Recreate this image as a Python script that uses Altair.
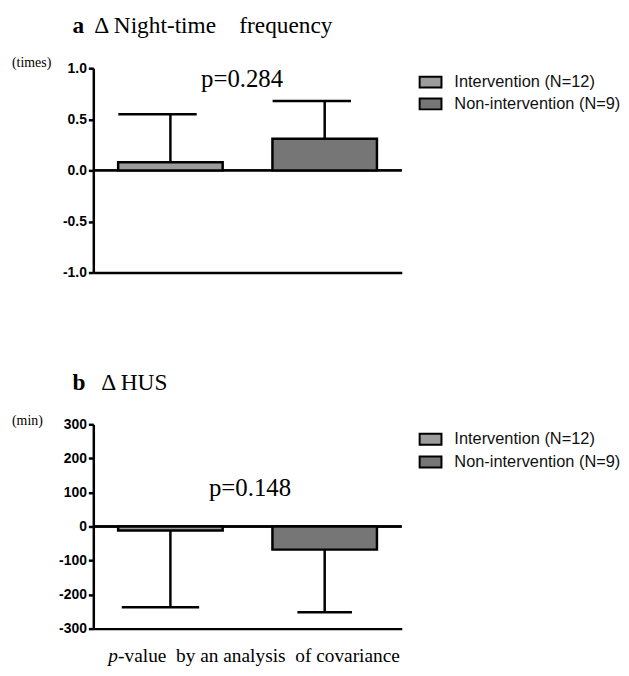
import altair as alt
import pandas as pd

# ---- data ----
groups = ["Intervention (N=12)", "Non-intervention (N=9)"]
night_mean = [0.08, 0.31]
night_err_end = [0.55, 0.68]
hus_mean = [-12, -68]
hus_err_end = [-237, -252]
night_ticks = [-1.0, -0.5, 0.0, 0.5, 1.0]
hus_ticks = [-300, -200, -100, 0, 100, 200, 300]
p_labels = ["p=0.284", "p=0.148"]
panel_letters = ["a", "b"]
NB = "\u00a0"
panel_titles = ["\u0394 Night-time" + NB * 4 + "frequency", "\u0394 HUS"]
units = ["(times)", "(min)"]
footer = ["p", "-value" + NB * 2 + "by an analysis" + NB * 2 + "of covariance"]

W, H = 311, 206
SERIF = "Liberation Serif"
SANS = "Liberation Sans"
FILLS = ["#9c9c9c", "#767676"]


def yenc(field, ticks, fmt):
    scale = alt.Scale(domain=[ticks[0], ticks[-1]], nice=False, zero=False)
    return alt.Y(
        field, type="quantitative", scale=scale,
        axis=alt.Axis(values=ticks, format=fmt, title=None, grid=False,
                      labelExpr="replace(datum.label, '\u2212', '-')",
                      domainColor="black", domainWidth=2.5,
                      tickColor="black", tickWidth=2.5, tickSize=5,
                      labelFont=SANS, labelFontWeight="bold", labelFontSize=14,
                      labelColor="black", labelPadding=2))


def panel(values, err, ticks, fmt, idx, pval_x, pval_y, legend_y, row_pad, caps, title_x):
    df = pd.DataFrame({"group": groups, "mean": values, "err": err})
    x = alt.X("group:N",
              scale=alt.Scale(domain=groups, paddingInner=0.3226, paddingOuter=0.161),
              axis=alt.Axis(labels=False, ticks=False, title=None, grid=False,
                            domainColor="black", domainWidth=2.5))
    color = alt.Color(
        "group:N",
        scale=alt.Scale(domain=groups, range=FILLS),
        legend=alt.Legend(title=None, orient="none", legendX=328, legendY=legend_y,
                          symbolType="M-1,-0.5H1V0.5H-1Z", symbolSize=484,
                          symbolStrokeColor="black", symbolStrokeWidth=2,
                          labelFont=SANS, labelFontSize=16.5, labelColor="#111111",
                          labelLimit=0, labelOffset=12, rowPadding=row_pad))
    base = alt.Chart(df)
    zero = base.transform_calculate(z="0").mark_rule(
        color="black", strokeWidth=2.5).encode(y=yenc("z", ticks, fmt))
    bars = base.mark_bar(stroke="black", strokeWidth=2.5).encode(
        x=x, y=yenc("mean", ticks, fmt), y2=alt.datum(0), color=color)
    stems = base.mark_rule(color="black", strokeWidth=2.5).encode(
        x=x, y=yenc("mean", ticks, fmt), y2="err:Q")
    cap_layers = []
    for g, (size, off) in zip(groups, caps):
        cap_layers.append(
            base.transform_filter(alt.datum.group == g).mark_tick(
                color="black", thickness=2.5, size=size, xOffset=off, opacity=1
            ).encode(x=x, y=yenc("err", ticks, fmt)))
    txt = pd.DataFrame({"t": [p_labels[idx]], "l": [panel_letters[idx]],
                        "m": [panel_titles[idx]], "u": [units[idx]]})
    tb = alt.Chart(txt)
    pval = tb.mark_text(font=SERIF, fontSize=25, align="center", baseline="middle",
                        color="black").encode(text="t:N", x=alt.value(pval_x), y=alt.value(pval_y))
    letter = tb.mark_text(font=SERIF, fontSize=23.5, fontWeight="bold", align="left",
                          baseline="alphabetic", color="black").encode(
        text="l:N", x=alt.value(-21), y=alt.value(-35))
    title = tb.mark_text(font=SERIF, fontSize=23.5, align="left", baseline="alphabetic",
                         color="black").encode(text="m:N", x=alt.value(title_x), y=alt.value(-35))
    unit = tb.mark_text(font=SERIF, fontSize=14, align="left", baseline="middle",
                        color="black").encode(text="u:N", x=alt.value(-82),
                                              y=alt.value(-5 if idx == 0 else -3))
    layers = [zero, bars, stems] + cap_layers + [pval, letter, title, unit]
    if idx == 1:
        ft = pd.DataFrame({"a": [footer[0]], "b": [footer[1]]})
        fb = alt.Chart(ft)
        layers.append(fb.mark_text(font=SERIF, fontSize=19.5, fontStyle="italic", align="left",
                                   baseline="alphabetic", color="black").encode(
            text="a:N", x=alt.value(15), y=alt.value(H + 34)))
        layers.append(fb.mark_text(font=SERIF, fontSize=19.5, align="left",
                                   baseline="alphabetic", color="black").encode(
            text="b:N", x=alt.value(25), y=alt.value(H + 34)))
    return alt.layer(*layers).properties(width=W, height=H)


top = panel(night_mean, night_err_end, night_ticks, ".1f", 0, 150, 11, 2, 0,
            [(79, -13), (79, -13)], 1)
bottom = panel(hus_mean, hus_err_end, hus_ticks, "d", 1, 158, 64, 3, 1,
               [(78, -10), (55, 0)], 8)

chart = alt.vconcat(top, bottom, spacing=92).resolve_legend(
    color="independent").configure_view(stroke=None).properties(
    padding={"left": 4, "top": 4, "right": 0, "bottom": 0})

chart.save("out.html", embed_options={"renderer": "svg", "actions": False})
